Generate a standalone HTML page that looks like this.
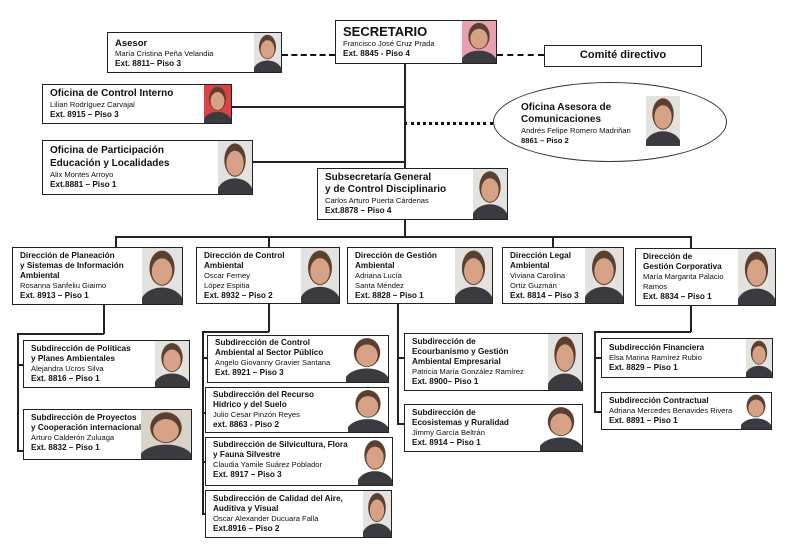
<!DOCTYPE html>
<html><head><meta charset="utf-8"><style>
body{margin:0;width:793px;height:550px;background:#fff;position:relative;overflow:hidden;font-family:"Liberation Sans",Arial,sans-serif;color:#111}
.b{position:absolute;border:1.5px solid #222;background:#fff;box-sizing:border-box;padding:3px 0 0 7px;font-size:7.6px;line-height:10px;white-space:nowrap}
.b b{font-size:8.2px}
.ph{position:absolute;right:0;top:0;bottom:0;
background:radial-gradient(ellipse 26% 24% at 50% 42%,#d6a184 96%,transparent 100%),radial-gradient(ellipse 32% 32% at 50% 36%,#5a4030 96%,transparent 100%),radial-gradient(ellipse 55% 30% at 50% 100%,#3a3a40 96%,transparent 100%),#e4e2df}
.l{position:absolute;background:#222}
.h{height:1.5px}.v{width:1.5px}
.dh{position:absolute;height:0;border-top:2.5px dashed #111}
</style></head><body>
<div class="l v" style="left:404px;top:64px;height:173px"></div>
<div class="l h" style="left:232px;top:106px;width:172px"></div>
<div class="l h" style="left:253px;top:161px;width:151px"></div>
<div class="dh" style="left:282px;top:54px;width:53px"></div>
<div class="dh" style="left:497px;top:54px;width:47px"></div>
<div class="dh" style="left:404px;top:122px;width:89px;border-top-style:dotted;border-top-width:3px"></div>
<div class="l h" style="left:115px;top:236px;width:576px"></div>
<div class="l v" style="left:115px;top:236px;height:11px"></div>
<div class="l v" style="left:268px;top:236px;height:11px"></div>
<div class="l v" style="left:552px;top:236px;height:11px"></div>
<div class="l v" style="left:690px;top:236px;height:12px"></div>
<div class="l v" style="left:103px;top:304px;height:30px"></div>
<div class="l h" style="left:17px;top:333px;width:87px"></div>
<div class="l v" style="left:17px;top:333px;height:118px"></div>
<div class="l h" style="left:17px;top:364px;width:6px"></div>
<div class="l h" style="left:17px;top:450px;width:6px"></div>
<div class="l v" style="left:268px;top:304px;height:28px"></div>
<div class="l h" style="left:202px;top:331px;width:67px"></div>
<div class="l v" style="left:202px;top:331px;height:183px"></div>
<div class="l h" style="left:202px;top:357px;width:5px"></div>
<div class="l h" style="left:202px;top:412px;width:5px"></div>
<div class="l h" style="left:202px;top:461px;width:5px"></div>
<div class="l h" style="left:202px;top:513px;width:5px"></div>
<div class="l v" style="left:397px;top:304px;height:120px"></div>
<div class="l h" style="left:397px;top:357px;width:7px"></div>
<div class="l h" style="left:397px;top:423px;width:7px"></div>
<div class="l v" style="left:690px;top:306px;height:26px"></div>
<div class="l h" style="left:594px;top:331px;width:97px"></div>
<div class="l v" style="left:594px;top:331px;height:81px"></div>
<div class="l h" style="left:594px;top:357px;width:7px"></div>
<div class="l h" style="left:594px;top:411px;width:7px"></div>

<div class="b" style="left:107px;top:32px;width:175px;height:41px;padding-top:5px"><b style="font-size:9.5px;line-height:11px">Asesor</b><br>María Cristina Peña Velandia<br><b>Ext. 8811– Piso 3</b><div class="ph" style="width:27px"></div></div>
<div class="b" style="left:335px;top:20px;width:162px;height:44px;padding-top:4px"><b style="font-size:13px;line-height:14px">SECRETARIO</b><br>Francisco José Cruz Prada<br><b>Ext. 8845 - Piso 4</b><div class="ph" style="width:34px;background-color:#e8a0b0"></div></div>
<div class="b" style="left:544px;top:45px;width:158px;height:22px;padding:4px 0 0;text-align:center;font-size:11px;font-weight:bold">Comité directivo</div>
<div class="b" style="left:42px;top:84px;width:190px;height:40px;padding-top:3px"><b style="font-size:10px;line-height:12px">Oficina de Control Interno</b><br>Lilian  Rodríguez Carvajal<br><b>Ext. 8915 – Piso 3</b><div class="ph" style="width:27px;background-color:#e04040"></div></div>
<div class="b" style="left:42px;top:140px;width:211px;height:55px;padding-top:3px"><b style="font-size:10px;line-height:13px">Oficina de Participación<br>Educación y Localidades</b><br>Alix Montes Arroyo<br><b>Ext.8881 – Piso 1</b><div class="ph" style="width:34px"></div></div>
<div style="position:absolute;left:493px;top:82px;width:234px;height:80px;border:1.2px solid #333;border-radius:50%;box-sizing:border-box;font-size:7.6px;line-height:10px">
<div style="position:absolute;left:27px;top:19px;white-space:nowrap"><b style="font-size:10px;line-height:12px">Oficina Asesora de<br>Comunicaciones</b><br>Andrés Felipe Romero Madriñan<br><b>8861 – Piso 2</b></div>
<div class="ph" style="left:152px;right:auto;top:13px;bottom:auto;width:34px;height:50px"></div></div>
<div class="b" style="left:317px;top:168px;width:191px;height:52px;padding-top:3px"><b style="font-size:10px;line-height:12px">Subsecretaría General<br>y de Control Disciplinario</b><br>Carlos Arturo Puerta Cárdenas<br><b>Ext.8878 – Piso  4</b><div class="ph" style="width:34px"></div></div>

<div class="b" style="left:12px;top:247px;width:171px;height:58px;padding-top:3px"><b>Dirección de Planeación<br>y Sistemas de Información<br>Ambiental</b><br>Rosanna Sanfeliu Giaimo<br><b>Ext. 8913 – Piso 1</b><div class="ph" style="width:40px"></div></div>
<div class="b" style="left:196px;top:247px;width:144px;height:57px;padding-top:3px"><b>Dirección de Control<br>Ambiental</b><br>Oscar Ferney<br>López Espitia<br><b>Ext. 8932 – Piso 2</b><div class="ph" style="width:38px"></div></div>
<div class="b" style="left:347px;top:247px;width:146px;height:57px;padding-top:3px"><b>Dirección de Gestión<br>Ambiental</b><br>Adriana Lucía<br>Santa Méndez<br><b>Ext. 8828 – Piso 1</b><div class="ph" style="width:37px"></div></div>
<div class="b" style="left:502px;top:247px;width:122px;height:57px;padding-top:3px"><b>Dirección Legal<br>Ambiental</b><br>Viviana Carolina<br>Ortiz Guzmán<br><b>Ext. 8814 – Piso 3</b><div class="ph" style="width:38px"></div></div>
<div class="b" style="left:635px;top:248px;width:141px;height:58px;padding-top:3px"><b>Dirección de<br>Gestión Corporativa</b><br>María Margarita Palacio<br>Ramos<br><b>Ext. 8834 – Piso 1</b><div class="ph" style="width:37px"></div></div>

<div class="b" style="left:23px;top:340px;width:167px;height:48px;padding-top:3px"><b>Subdirección de Políticas<br>y Planes Ambientales</b><br>Alejandra Ucros Silva<br><b>Ext. 8816 – Piso 1</b><div class="ph" style="width:34px"></div></div>
<div class="b" style="left:23px;top:409px;width:169px;height:51px;padding-top:3px"><b>Subdirección de Proyectos<br>y Cooperación internacional</b><br>Arturo Calderón Zuluaga<br><b>Ext. 8832 – Piso 1</b><div class="ph" style="width:50px;background-color:#d8d4c8"></div></div>
<div class="b" style="left:207px;top:335px;width:182px;height:48px;padding-top:2px"><b>Subdirección de Control<br>Ambiental al Sector Público</b><br>Angelo Giovanny Gravier Santana<br><b>Ext. 8921 – Piso 3</b><div class="ph" style="width:42px;background-color:#fff"></div></div>
<div class="b" style="left:205px;top:387px;width:184px;height:46px;padding-top:2px"><b>Subdirección del Recurso<br>Hídrico y del Suelo</b><br>Julio Cesar Pinzón Reyes<br><b>ext. 8863  - Piso 2</b><div class="ph" style="width:40px;background-color:#fff"></div></div>
<div class="b" style="left:205px;top:437px;width:188px;height:49px;padding-top:2px"><b>Subdirección de  Silvicultura, Flora<br>y Fauna Silvestre</b><br>Claudia Yamile Suárez Poblador<br><b>Ext. 8917 – Piso 3</b><div class="ph" style="width:34px;background-color:#fff"></div></div>
<div class="b" style="left:205px;top:490px;width:187px;height:48px;padding-top:3px"><b>Subdirección de Calidad del Aire,<br>Auditiva y Visual</b><br>Oscar Alexander Ducuara Falla<br><b>Ext.8916 – Piso 2</b><div class="ph" style="width:28px"></div></div>
<div class="b" style="left:404px;top:333px;width:179px;height:58px;padding-top:3px"><b>Subdirección de<br>Ecourbanismo y Gestión<br>Ambiental  Empresarial</b><br>Patricia María González Ramírez<br><b>Ext. 8900– Piso 1</b><div class="ph" style="width:34px"></div></div>
<div class="b" style="left:404px;top:404px;width:179px;height:48px;padding-top:3px"><b>Subdirección de<br>Ecosistemas y Ruralidad</b><br>Jimmy García Beltrán<br><b>Ext. 8914 – Piso 1</b><div class="ph" style="width:42px;background-color:#fff"></div></div>
<div class="b" style="left:601px;top:338px;width:172px;height:40px;padding-top:4px"><b>Subdirección Financiera</b><br>Elsa Marina Ramírez Rubio<br><b>Ext. 8829 – Piso 1</b><div class="ph" style="width:26px"></div></div>
<div class="b" style="left:601px;top:392px;width:171px;height:38px;padding-top:3px"><b>Subdirección Contractual</b><br>Adriana Mercedes Benavides Rivera<br><b>Ext. 8891 – Piso 1</b><div class="ph" style="width:30px;background-color:#fff"></div></div>
</body></html>
